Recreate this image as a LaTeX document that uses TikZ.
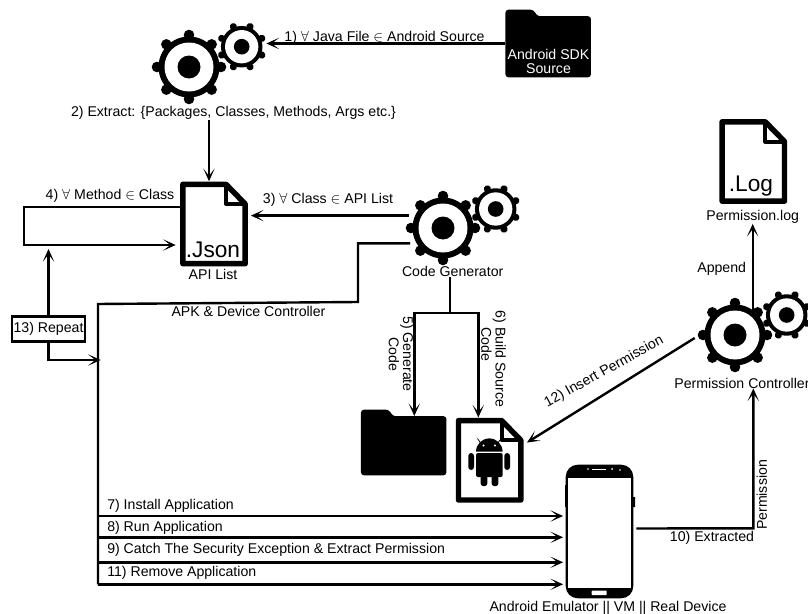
\documentclass[tikz,border=0pt]{standalone}
\usepackage{fontspec}
\setmainfont{Liberation Sans}
\usetikzlibrary{calc, arrows.meta}

\tikzset{
    >={Stealth[length=9.5pt, width=8.5pt, inset=5.5pt]},
    flow/.style={line width=1.8pt},
    lbl/.style={inner sep=0pt, font=\fontsize{10.6}{10.6}\selectfont, align=center},
    bigText/.style={inner sep=0pt, font=\fontsize{17}{18}\selectfont},
    gearNode/.style={circle, inner sep=0pt},
    fileBox/.style={inner sep=0pt, minimum width=51pt, minimum height=63.75pt},
    folderBox/.style={inner sep=0pt, minimum width=63.75pt, minimum height=49.5pt},
    phoneBox/.style={inner sep=0pt, minimum width=50.25pt, minimum height=99.75pt}
}

% Gear icon: name, x, y, scale, rotation
\newcommand{\gearAt}[5]{
    \node[gearNode, minimum size=#4*54pt] (#1) at (#2,#3) {};
    \begin{scope}[shift={(#2,#3)}, scale=#4, rotate=#5]
        \foreach \a in {0,45,...,315} {
            \fill (\a:32) circle (5.3);
            \draw[line width=#4*5.5pt] (\a:26) -- (\a:32);
        }
        \fill (0,0) circle (30.5);
        \fill[white] (0,0) circle (24.5);
        \fill (0,0) circle (11.5);
    \end{scope}
}

% File icon: name, x, y
\newcommand{\fileAt}[3]{
    \node[fileBox] (#1) at (#2,#3) {};
    \begin{scope}[shift={(#2,#3)}]
        \draw[line width=4.1pt, line join=round, fill=white]
            (-31.2,-39.7) -- (12,-39.7) -- (31.2,-20) -- (31.2,39.7) -- (-31.2,39.7) -- cycle;
        \draw[line width=3pt, line join=round] (12,-39.7) -- (12,-20) -- (31.2,-20);
    \end{scope}
}

% Folder icon: name, x, y, height of the body in px
\newcommand{\folderAt}[4]{
    \node[folderBox, minimum height=#4*0.75pt] (#1) at (#2,#3) {};
    \fill[rounded corners=2.2pt] (#1.south west) -- (#1.north west) -- ++(28,0) -- ++(4,6.5) -| (#1.south east) -- cycle;
}

\begin{document}
\begin{tikzpicture}[x=0.75pt, y=-0.75pt]
    \useasboundingbox (0,0) rectangle (808,614);

    % Draw gears
    \gearAt{extractBig}{189}{67}{1}{0}
    \gearAt{extractSmall}{241.7}{46.7}{0.68}{22.5}
    \gearAt{codeBig}{443}{228}{1}{0}
    \gearAt{codeSmall}{495.7}{209}{0.68}{22.5}
    \gearAt{permBig}{735}{335}{1}{0}
    \gearAt{permSmall}{786.7}{315}{0.68}{22.5}

    % Draw folders
    \folderAt{sdkFolder}{548.2}{43.5}{67}
    \folderAt{genFolder}{403.7}{442.5}{65}
    \node[lbl, text=white] (sdkText) at (548.5,61.5) {Android SDK\\Source};

    % Draw files
    \fileAt{apiFile}{214}{224}
    \fileAt{buildFile}{489.7}{460.3}
    \fileAt{logFile}{753.3}{161.5}
    \node[bigText] (jsonText) at (213,250) {.Json};
    \node[bigText] (logText) at (751,186) {.Log};

    % Draw the robot on the source file
    \fill (476,451.7) arc (180:360:13.3) -- cycle;
    \draw[line width=0.6pt] (480.5,443) -- (477.5,438.5) (498,443) -- (501,438.5);
    \fill[white] (483.5,445.5) circle (1.2) (495,445.5) circle (1.2);
    \fill[rounded corners=1.5pt] (476,453) rectangle (502.7,477);
    \fill[rounded corners=1.8pt] (480.7,470) rectangle (487.3,486) (491.7,470) rectangle (498.3,486);
    \fill[rounded corners=2.2pt] (468.3,453) rectangle (474,470) (504.3,453) rectangle (510,470);

    % Draw the phone
    \node[phoneBox] (phone) at (599.5,531.5) {};
    \fill (565,485) rectangle (567,507) (632,497) rectangle (635,507);
    \fill[rounded corners=9pt] (phone.south west) rectangle (phone.north east);
    \fill[white] (568.3,477.7) rectangle (630.7,588);
    \fill[white, rounded corners=0.5pt] (591.7,590.7) rectangle (606.7,595);
    \draw[white, line width=0.6pt] (592,469) -- (606,469);
    \fill[white] (588,469) circle (0.8) (612,469) circle (1) (620,470) circle (0.8);

    % Labels
    \node[lbl] (srcLabel) at (384.5,38) {1) $\forall$ Java File $\in$ Android Source};
    \node[lbl] (extractLabel) at (233.5,113) {2) Extract: \{Packages, Classes, Methods, Args etc.\}};
    \node[lbl] (classLabel) at (328,199.5) {3) $\forall$ Class $\in$ API List};
    \node[lbl] (methodLabel) at (110,196) {4) $\forall$ Method $\in$ Class};
    \node[lbl] (apiLabel) at (213,274) {API List};
    \node[lbl] (codeLabel) at (452.7,271.7) {Code Generator};
    \node[lbl] (apkLabel) at (248.5,311.7) {APK \& Device Controller};
    \node[lbl, rotate=-90] (genLabel) at (401,354) {5) Generate\\Code};
    \node[lbl, rotate=-90] (buildLabel) at (493.5,359) {6) Build Source\\Code\hspace*{22pt}};
    \node[lbl, rotate=29] (insertLabel) at (604,372) {12) Insert Permission};
    \node[lbl] (logLabel) at (752.7,217) {Permission.log};
    \node[lbl] (appendLabel) at (721.7,269) {Append};
    \node[lbl] (permLabel) at (742,383) {Permission Controller};
    \node[lbl] (extractedLabel) at (712,538) {10) Extracted};
    \node[lbl, rotate=90] (permText) at (761.7,495) {Permission};
    \node[lbl] (deviceLabel) at (608,608) {Android Emulator || VM || Real Device};
    \node[lbl, draw, flow, minimum width=54.75pt, minimum height=18.75pt] (repeatBox) at (48.5,329) {13) Repeat};

    % Define the corners of the connectors
    \coordinate (apkTurn) at (358,302);
    \coordinate (apkCorner) at (98,304);
    \coordinate (apkEnd) at (98,584.3);
    \coordinate (loopTop) at (24,206.7);
    \coordinate (loopBottom) at (24,245);
    \coordinate (repeatTurn) at (48.5,360);
    \coordinate (codeFork) at (450,312.7);
    \coordinate (forkLeft) at (414.3,312.7);
    \coordinate (forkRight) at (478.3,312.7);
    \coordinate (genTip) at (414.3,416);
    \coordinate (extractedTurn) at (753.3,528.3);

    % Draw connectors
    \draw[flow, ->] (sdkFolder.west) -- (sdkFolder.west -| extractSmall.east);
    \draw[flow, ->] (extractLabel.south -| apiFile.north) ++(-5,0) -- ([xshift=-3.75pt]apiFile.north);
    \draw[flow, ->] (codeBig.160) -- ([xshift=2pt]apiFile.east |- codeBig.160);
    \draw[flow, ->] (apiFile.west |- loopTop) -- (loopTop) -- (loopBottom) -- ([xshift=-3pt]apiFile.west |- loopBottom);
    \draw[flow] (codeBig.205) -| (apkTurn) -- (apkCorner) -- (apkEnd);
    \draw[flow, ->] (repeatBox.north) -- ([yshift=-3pt]repeatBox.north |- loopBottom);
    \draw[flow, ->] (repeatBox.south) -- (repeatTurn) -- ([xshift=2pt]repeatTurn -| apkCorner);
    \draw[flow] (codeFork |- codeLabel.south) -- (codeFork);
    \draw[flow, ->] (codeFork) -- (forkLeft) -- (genTip);
    \draw[flow, ->] (codeFork) -- (forkRight) -- (forkRight |- buildFile.north);
    \draw[flow, ->] ($(permBig.west)+(-4,3)$) -- ($(buildFile.north east)+(3,25)$);
    \draw[flow, ->] ($(logLabel.south |- permBig.center)+(0,-25)$) -- (logLabel.south);
    \draw[flow, ->] ($(phone.east)+(3,-3)$) -- (extractedTurn) -- (extractedTurn |- permLabel.south);

    % Steps from the controller line to the phone
    \foreach \y/\ty/\txt in {516/506/7) Install Application, 537.3/528/8) Run Application, 562.3/550/9) Catch The Security Exception \& Extract Permission, 584.3/573/11) Remove Application} {
        \node[lbl, anchor=west] (step\ty) at (107,\ty) {\txt};
        \coordinate (tap\ty) at (98,\y);
        \draw[flow, ->] (tap\ty) -- ([xshift=-2pt]tap\ty -| phone.west);
    }
\end{tikzpicture}
\end{document}
